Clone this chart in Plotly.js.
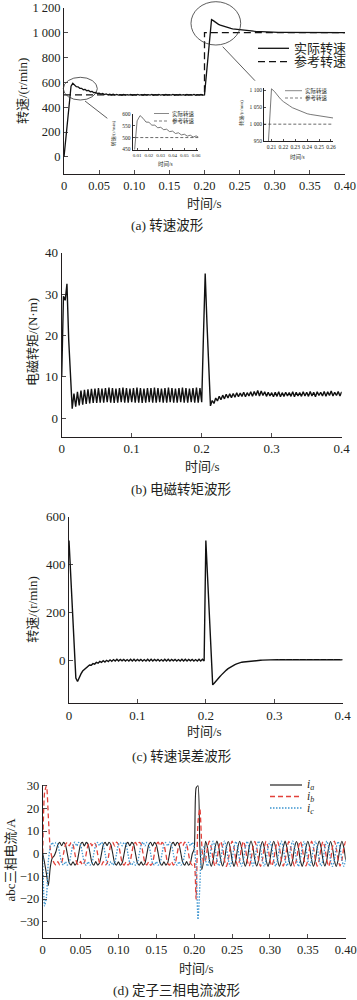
<!DOCTYPE html>
<html><head><meta charset="utf-8">
<script src="https://cdn.plot.ly/plotly-3.0.1.min.js"></script>
<style>html,body{margin:0;padding:0;background:#fff}#chart{width:357px;height:1000px}</style>
</head><body><div id="chart"></div>
<script>
// ---------------- DATA (sampled every timeStep seconds, starting at t = 0) ----------------
const timeStep = 0.0025;

// (a) speed, r/min
const refTime  = [0, 0.2, 0.2, 0.4];
const refSpeed = [500, 500, 1000, 1000];
const actualSpeed = [
  0,150,300,450,570,592,581,565,564,552,
  552,541,543,533,535,525,527,517,520,511,
  514,506,510,502,507,500,505,499,504,498,
  503,498,502,497,503,498,502,498,503,497,
  502,498,503,498,502,497,503,498,502,498,
  503,497,502,498,503,498,502,497,503,498,
  502,498,503,497,502,498,503,498,502,497,
  503,498,502,498,503,497,502,498,503,498,
  500,650,800,955,1105,1097,1085,1075,1067,1060,
  1055,1049,1045,1041,1037,1034,1031,1029,1027,1025,
  1023,1021,1019,1018,1016,1015,1014,1013,1012,1011,
  1010,1009,1008,1007,1007,1006,1006,1005,1005,1004,
  1004,1004,1003,1003,1003,1002,1002,1002,1002,1002,
  1001,1001,1001,1001,1001,1001,1001,1001,1001,1001,
  1001,1001,1001,1001,1001,1000,1000,1000,1000,1000,
  1000,1000,1000,1000,1000,1000,1000,1000,1000,1000,
  1000
];

// (b) electromagnetic torque, N·m
const torque = [
  10,29.5,28.5,32.5,19,9,2.3,6.0,2.8,6.4,
  3.1,6.7,3.3,6.9,3.5,7.0,3.6,7.1,3.7,7.2,
  3.7,7.3,3.8,7.2,3.8,7.3,3.9,7.4,3.8,7.3,
  3.7,7.2,3.8,7.3,3.9,7.4,3.8,7.3,3.8,7.2,
  3.9,7.3,3.8,7.4,3.8,7.3,3.7,7.2,3.8,7.3,
  3.9,7.3,3.8,7.4,3.8,7.3,3.9,7.2,3.8,7.3,
  3.8,7.4,3.9,7.3,3.8,7.2,3.8,7.3,3.9,7.4,
  3.8,7.3,3.8,7.2,3.9,7.3,3.8,7.4,3.8,7.3,
  3.9,20,35,23,11,3.0,4.3,3.6,4.9,4.2,
  5.3,4.5,5.6,4.7,5.8,4.9,5.9,5.0,6.0,5.1,
  6.2,5.2,6.1,5.3,6.3,5.2,6.2,5.4,6.4,5.3,
  6.5,5.5,6.7,5.4,6.6,5.5,6.4,5.3,6.3,5.4,
  6.2,5.2,6.3,5.3,6.4,5.2,6.2,5.3,6.3,5.4,
  6.2,5.3,6.4,5.2,6.3,5.4,6.2,5.3,6.4,5.4,
  6.3,5.3,6.5,5.4,6.3,5.2,6.4,5.5,6.3,5.4,
  6.5,5.3,6.4,5.5,6.6,5.4,6.3,5.5,6.5,5.4,
  6.4
];

// (c) speed error, r/min
const speedError = [
  500,360,215,70,-75,-90,-70,-58,-46,-40,
  -31,-29,-21,-22,-15,-17,-10,-13,-6,-10,
  -3,-8,-1,-6,1,-5,2,-4,3,-4,
  3,-3,3,-4,2,-4,3,-4,3,-4,
  3,-3,3,-4,2,-4,3,-4,3,-4,
  3,-3,3,-4,2,-4,3,-4,3,-4,
  3,-3,3,-4,2,-4,3,-4,3,-4,
  3,-3,3,-4,2,-4,3,-4,3,-4,
  500,349,198,47,-104,-96,-86,-78,-71,-63,
  -55,-48,-42,-36,-31,-27,-23,-19,-16,-13,
  -11,-9,-8,-7,-6,-5,-4,-3,-2.5,-2,
  -1.5,-1,-1,-0.5,0,0,1,0,1,1,
  1,1,2,1,2,1,2,1,2,1,
  2,1,2,1,2,1,2,1,2,1,
  2,1,2,1,2,1,2,1,2,1,
  2,1,2,1,2,1,2,1,2,1,
  2
];

// (d) stator three-phase currents, A
const ia = [
  0,-4,-9,-14,-6,-2,-1,1,
  4,5,3.5,5,4,0,-4,-5,-3.5,-5,-4,0,
  4.2,5.1,3.4,5,4.1,0.2,-4,-5.1,-3.4,-5,-4.1,-0.2,
  4,5,3.6,5.1,4,0,-4.1,-5,-3.5,-5.1,-4,0,
  4.1,5,3.5,5,4.2,0.1,-4,-5,-3.6,-5,-4.2,-0.1,
  4,5.1,3.4,5,4,0,-4.1,-5.1,-3.5,-5,-4,0.1,
  4.1,5,3.5,5.1,4,0,-4,-5,-3.4,-5.1,-4,0,
  2,29,30,3,-7,-3,
  5.5,2.8,-2.7,-5.5,-2.8,2.7,
  5.6,2.7,-2.8,-5.4,-2.7,2.8,
  5.4,2.8,-2.7,-5.6,-2.8,2.7,
  5.5,2.7,-2.8,-5.5,-2.7,2.8,
  5.6,2.8,-2.7,-5.4,-2.8,2.7,
  5.4,2.7,-2.8,-5.6,-2.7,2.8,
  5.5,2.8,-2.7,-5.5,-2.8,2.7,
  5.6,2.7,-2.8,-5.4,-2.7,2.8,
  5.4,2.8,-2.7,-5.6,-2.8,2.7,
  5.5,2.7,-2.8,-5.5,-2.7,2.8,
  5.6,2.8,-2.7,-5.4,-2.8,2.7,
  5.4,2.7,-2.8,-5.6,-2.7,2.8,
  5.5,2.8,-2.7
];
const ib = [
  0,27,30,16,2,-2,
  -4,-5,-3.5,-5,-4,0,4,5,3.5,5,4,0,
  -4.1,-5,-3.4,-5.1,-4,0.1,4,5.1,3.5,5,4.1,-0.1,
  -4,-5.1,-3.5,-5,-4.2,0,4.1,5,3.4,5.1,4,0,
  -4.1,-5,-3.6,-5,-4,0.1,4,5,3.6,5,4.2,0,
  -4,-5,-3.5,-5.1,-4.1,0,4.1,5.1,3.5,5,4,0.1,
  -4.2,-5,-3.4,-5,-4,0,4,5,3.5,5.1,4.1,0,
  -4,-5,
  -4,-20,14,20,4,-4,
  -2.7,2.7,5.5,2.8,-2.7,-5.5,
  -2.8,2.8,5.4,2.7,-2.8,-5.6,
  -2.7,2.7,5.6,2.8,-2.7,-5.4,
  -2.8,2.8,5.5,2.7,-2.8,-5.5,
  -2.7,2.7,5.4,2.8,-2.7,-5.6,
  -2.8,2.8,5.6,2.7,-2.8,-5.4,
  -2.7,2.7,5.5,2.8,-2.7,-5.5,
  -2.8,2.8,5.4,2.7,-2.8,-5.6,
  -2.7,2.7,5.6,2.8,-2.7,-5.4,
  -2.8,2.8,5.5,2.7,-2.8,-5.5,
  -2.7,2.7,5.4,2.8,-2.7,-5.6,
  -2.8,2.8,5.6,2.7,-2.8,-5.4,
  -2.7,2.7,5.5
];
const ic = [
  0,-23,-19,-3,3,
  5,3.5,5,4,0,-4,-5,-3.5,-5,-4,0,4,
  5.1,3.4,5,4.1,0,-4,-5.1,-3.5,-5,-4.1,0.1,4,
  5,3.6,5.1,4,-0.1,-4.1,-5,-3.4,-5,-4,0,4.1,
  5,3.5,5,4.2,0,-4,-5,-3.6,-5.1,-4,-0.1,4,
  5.1,3.5,5,4,0.1,-4.2,-5,-3.5,-5,-4.1,0,4,
  5,3.4,5.1,4,0,-4,-5.1,-3.5,-5,-4,0,4.1,
  5,3.5,5,
  3,-6,-29,-14,2,3,
  -2.7,-5.5,-2.8,2.7,5.5,2.8,
  -2.8,-5.4,-2.7,2.8,5.6,2.7,
  -2.7,-5.6,-2.8,2.7,5.4,2.8,
  -2.8,-5.5,-2.7,2.8,5.5,2.7,
  -2.7,-5.4,-2.8,2.7,5.6,2.8,
  -2.8,-5.6,-2.7,2.8,5.4,2.7,
  -2.7,-5.5,-2.8,2.7,5.5,2.8,
  -2.8,-5.4,-2.7,2.8,5.6,2.7,
  -2.7,-5.6,-2.8,2.7,5.4,2.8,
  -2.8,-5.5,-2.7,2.8,5.5,2.7,
  -2.7,-5.4,-2.8,2.7,5.6,2.8,
  -2.8,-5.6,-2.7,2.8,5.4,2.7,
  -2.7,-5.5,-2.8
];

// ---------------- TICKS ----------------
const timeTicks8 = [0,0.05,0.10,0.15,0.20,0.25,0.30,0.35,0.40];
const timeText8  = ['0','0.05','0.10','0.15','0.20','0.25','0.30','0.35','0.40'];
const timeTicks4 = [0,0.1,0.2,0.3,0.4];
const timeText4  = ['0','0.1','0.2','0.3','0.4'];
const speedTicks = [0,200,400,600,800,1000,1200];
const speedText  = ['0','200','400','600','800','1 000','1 200'];
const torqueTicks = [0,10,20,30,40];
const errorTicks  = [0,200,400,600];
const currentTicks = [-30,-20,-10,0,10,20,30];
const currentText  = ['\u221230','\u221220','\u221210','0','10','20','30'];
const inset1TimeTicks = [0.01,0.02,0.03,0.04,0.05,0.06];
const inset1TimeText  = ['0.01','0.02','0.03','0.04','0.05','0.06'];
const inset1SpeedTicks = [450,500,550,600];
const inset2TimeTicks = [0.21,0.22,0.23,0.24,0.25,0.26];
const inset2TimeText  = ['0.21','0.22','0.23','0.24','0.25','0.26'];
const inset2SpeedTicks = [950,1000,1050,1100];
const inset2SpeedText  = ['950','1 000','1 050','1 100'];

// ---------------- LAYOUT HELPERS ----------------
const W = 357, H = 1000;
const fx = p => p / W;
const fy = p => 1 - p / H;
const SERIF = '"Liberation Serif", "Noto Sans CJK SC", serif';
const INK = '#231f20';

function xAxis(x0, x1, anchor, range, vals, text, size, tl) {
  return {domain:[fx(x0), fx(x1)], anchor, range, tickmode:'array', tickvals:vals, ticktext:text,
    ticks:'inside', ticklen:tl, tickwidth:0.8, tickcolor:INK, showline:true, linecolor:INK, linewidth:1,
    tickangle:0, showgrid:false, zeroline:false, tickfont:{family:SERIF, size, color:INK}, fixedrange:true};
}
function yAxis(yTop, yBot, anchor, range, vals, text, size, tl) {
  return {domain:[fy(yBot), fy(yTop)], anchor, range, tickmode:'array', tickvals:vals, ticktext:text,
    ticks:'inside', ticklen:tl, tickwidth:0.8, tickcolor:INK, showline:true, linecolor:INK, linewidth:1,
    tickangle:0, showgrid:false, zeroline:false, tickfont:{family:SERIF, size, color:INK}, fixedrange:true};
}
function label(text, x, y, size, opts) {
  return Object.assign({text, x:fx(x), y:fy(y), xref:'paper', yref:'paper', showarrow:false,
    xanchor:'center', yanchor:'middle', font:{family:SERIF, size, color:INK}}, opts || {});
}
function seg(x0, y0, x1, y1, color, width, dash) {
  return {type:'line', xref:'paper', yref:'paper', x0:fx(x0), y0:fy(y0), x1:fx(x1), y1:fy(y1),
    line:{color, width, dash: dash || 'solid'}};
}

const RED = '#e2413a', BLUE = '#3d95d0';

const traces = [
  {name:'实际转速', x0:0, dx:timeStep, y:actualSpeed, xaxis:'x', yaxis:'y', mode:'lines', line:{color:'#111', width:1.3}},
  {name:'参考转速', x:refTime, y:refSpeed, xaxis:'x', yaxis:'y', mode:'lines', line:{color:'#111', width:1.3, dash:'7px,4px'}},
  {name:'实际转速', x0:0, dx:timeStep, y:actualSpeed, xaxis:'x5', yaxis:'y5', mode:'lines', line:{color:'#555', width:0.8}},
  {name:'参考转速', x:refTime, y:refSpeed, xaxis:'x5', yaxis:'y5', mode:'lines', line:{color:'#444', width:0.8, dash:'3px,2px'}},
  {name:'实际转速', x0:0, dx:timeStep, y:actualSpeed, xaxis:'x6', yaxis:'y6', mode:'lines', line:{color:'#555', width:0.8}},
  {name:'参考转速', x:refTime, y:refSpeed, xaxis:'x6', yaxis:'y6', mode:'lines', line:{color:'#444', width:0.8, dash:'3px,2px'}},
  {name:'电磁转矩', x0:0, dx:timeStep, y:torque, xaxis:'x2', yaxis:'y2', mode:'lines', line:{color:'#111', width:1.4}},
  {name:'转速误差', x0:0, dx:timeStep, y:speedError, xaxis:'x3', yaxis:'y3', mode:'lines', line:{color:'#111', width:1.4}},
  {name:'i_a', x0:0, dx:timeStep, y:ia, xaxis:'x4', yaxis:'y4', mode:'lines', line:{color:'#222', width:1.1, shape:'spline', smoothing:0.6}},
  {name:'i_b', x0:0, dx:timeStep, y:ib, xaxis:'x4', yaxis:'y4', mode:'lines', line:{color:RED, width:1.3, dash:'5px,3px', shape:'spline', smoothing:0.6}},
  {name:'i_c', x0:0, dx:timeStep, y:ic, xaxis:'x4', yaxis:'y4', mode:'lines', line:{color:BLUE, width:1.3, dash:'1.5px,1.5px', shape:'spline', smoothing:0.6}}
];

const layout = {
  width:W, height:H, margin:{l:0, r:0, t:0, b:0}, showlegend:false,
  paper_bgcolor:'#fff', plot_bgcolor:'rgba(0,0,0,0)',
  font:{family:SERIF, color:INK},
  xaxis:  xAxis(64, 345, 'y',  [0,0.4], timeTicks8, timeText8, 12.5, 4),
  yaxis:  yAxis(7.8, 174, 'x', [-137,1200], speedTicks, speedText, 12.5, 4),
  xaxis2: xAxis(61.7, 341.7, 'y2', [0,0.4], timeTicks4, timeText4, 13, 4),
  yaxis2: yAxis(252.7, 436.7, 'x2', [-4.44,40], torqueTicks, torqueTicks.map(String), 13, 4),
  xaxis3: xAxis(69, 342.7, 'y3', [0,0.4], timeTicks4, timeText4, 13, 4),
  yaxis3: yAxis(516.7, 703.3, 'x3', [-181,600], errorTicks, errorTicks.map(String), 13, 4),
  xaxis4: xAxis(42.7, 345.7, 'y4', [0,0.4], timeTicks8, timeText8, 12.5, 4),
  yaxis4: yAxis(784.6, 938.3, 'x4', [-37.3,30.5], currentTicks, currentText, 12.5, 4),
  xaxis5: xAxis(132.5, 198.3, 'y5', [0.0061,0.0618], inset1TimeTicks, inset1TimeText, 5, 2),
  yaxis5: yAxis(113.7, 149.5, 'x5', [450,600], inset1SpeedTicks, inset1SpeedTicks.map(String), 5.5, 2),
  xaxis6: xAxis(264, 333, 'y6', [0.2037,0.2617], inset2TimeTicks, inset2TimeText, 5.5, 2),
  yaxis6: yAxis(87.8, 141, 'x6', [950,1108], inset2SpeedTicks, inset2SpeedText, 5.5, 2),
  annotations: [
    label('转速/(r/min)', 23, 91, 13, {textangle:-90}),
    label('时间/s', 205, 203, 13),
    label('(a) 转速波形', 167, 226, 13.5),
    label('实际转速', 292, 48.3, 13, {xanchor:'left'}),
    label('参考转速', 292, 61.7, 13, {xanchor:'left'}),
    label('转速/(r/min)', 113.3, 133, 5, {textangle:-90}),
    label('时间/s', 165, 164, 5.5),
    label('实际转速', 170, 113.5, 5.5, {xanchor:'left'}),
    label('参考转速', 170, 121, 5.5, {xanchor:'left'}),
    label('转速/(r/min)', 241.7, 113, 5, {textangle:-90}),
    label('时间/s', 297, 157, 5.5),
    label('实际转速', 303, 90.7, 5.5, {xanchor:'left'}),
    label('参考转速', 303, 98, 5.5, {xanchor:'left'}),
    label('电磁转矩/(N·m)', 32, 342, 13, {textangle:-90}),
    label('时间/s', 202, 466.7, 13),
    label('(b) 电磁转矩波形', 181, 489, 13.5),
    label('转速/(r/min)', 31.7, 610, 13, {textangle:-90}),
    label('时间/s', 204, 731.7, 13),
    label('(c) 转速误差波形', 182, 756.7, 13.5),
    label('abc三相电流/A', 9.5, 860, 13, {textangle:-90}),
    label('时间/s', 196, 968, 13),
    label('(d) 定子三相电流波形', 177, 990.7, 13.5),
    label('<i>i</i><sub><i>a</i></sub>', 305, 784.5, 11.5, {xanchor:'left'}),
    label('<i>i</i><sub><i>b</i></sub>', 305, 796.5, 11.5, {xanchor:'left'}),
    label('<i>i</i><sub><i>c</i></sub>', 305, 808.5, 11.5, {xanchor:'left'})
  ],
  shapes: [
    {type:'circle', xref:'paper', yref:'paper', x0:fx(63.3), x1:fx(97.3), y0:fy(100), y1:fy(77.3), line:{color:'#333', width:0.8}},
    {type:'circle', xref:'paper', yref:'paper', x0:fx(191), x1:fx(240.7), y0:fy(45), y1:fy(1.7), line:{color:'#333', width:0.8}},
    seg(85, 101, 107.3, 118.3, '#333', 0.8),
    seg(222.7, 46.7, 255, 80.7, '#333', 0.8),
    seg(258, 48.3, 289, 48.3, '#111', 1.3),
    seg(258, 61.7, 289, 61.7, '#111', 1.3, '7px,4px'),
    seg(154, 113.5, 169, 113.5, '#555', 0.7),
    seg(154, 121, 169, 121, '#444', 0.7, '3px,2px'),
    seg(285, 90.7, 302, 90.7, '#555', 0.7),
    seg(285, 98, 302, 98, '#444', 0.7, '3px,2px'),
    seg(270, 785, 302, 785, '#222', 1.2),
    seg(270, 796.5, 302, 796.5, RED, 1.3, '5px,3px'),
    seg(270, 808, 302, 808, BLUE, 1.3, '1.5px,1.5px')
  ]
};

Plotly.newPlot('chart', traces, layout, {staticPlot:true, displayModeBar:false});
</script></body></html>
